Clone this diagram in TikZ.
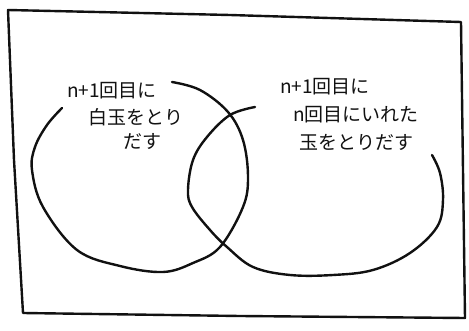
\documentclass[tikz,border=0pt]{standalone}
\usepackage{fontspec}
\newfontfamily\jpfont{Noto Sans CJK JP}
\usepackage{tikz}
\definecolor{InkBlack}{HTML}{111111}

\begin{document}
\begin{tikzpicture}[x=1pt,y=-1pt,
  hand/.style={InkBlack,line width=2.4pt,line cap=round,line join=round},
  venntext/.style={font=\jpfont\fontsize{19}{22}\selectfont,text=InkBlack,inner sep=1pt}]
  \useasboundingbox (0,0) rectangle (469,331);
  % frame
  \draw[hand] (8,10) -- (230,15) -- (461,22) -- (463,170) -- (465,318) -- (240,316) -- (23,313) -- (14,160) -- cycle;
  % left set
  \draw[hand] plot[smooth,tension=0.6] coordinates {(172,82) (200,90) (228,112) (243,140) (248,177) (243,207) (220,247) (193,263) (163,272) (120,266) (77,250) (43,207) (32,170) (35,147) (47,125) (62,108)};
  % right set
  \draw[hand] plot[smooth,tension=0.6] coordinates {(255,107) (230,115) (207,137) (193,160) (188,190) (192,207) (210,230) (227,247) (253,267) (290,275) (333,275) (373,270) (410,253) (437,227) (443,200) (440,173) (432,155)};
  % labels
  \node[venntext] (leftA) at (112,91) {n+1回目に};
  \node[venntext] (leftB) at (136,117) {白玉をとり};
  \node[venntext] (leftC) at (142,141) {だす};
  \node[venntext] (rightA) at (325,87) {n+1回目に};
  \node[venntext] (rightB) at (356,115) {n回目にいれた};
  \node[venntext] (rightC) at (356,142) {玉をとりだす};
\end{tikzpicture}
\end{document}
